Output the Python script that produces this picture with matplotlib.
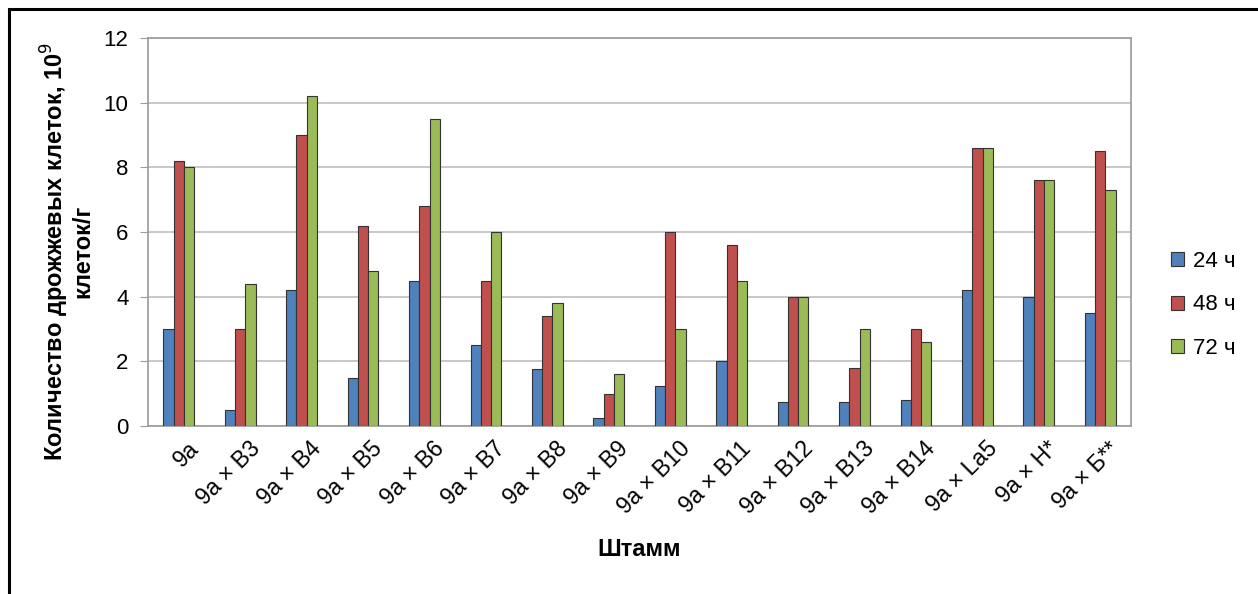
import matplotlib
matplotlib.use("Agg")
import matplotlib.pyplot as plt
import numpy as np
from matplotlib.patches import Rectangle

plt.rcParams["font.family"] = ["Liberation Sans", "DejaVu Sans"]

# Data
strains = ["9а", "9а × В3", "9а × В4", "9а × В5", "9а × В6", "9а × В7",
           "9а × В8", "9а × В9", "9а × В10", "9а × В11", "9а × В12",
           "9а × В13", "9а × В14", "9а × La5", "9а × Н*", "9а × Б**"]
h24 = [3.0, 0.5, 4.2, 1.5, 4.5, 2.5, 1.75, 0.25, 1.25, 2.0, 0.75, 0.75, 0.8, 4.2, 4.0, 3.5]
h48 = [8.2, 3.0, 9.0, 6.2, 6.8, 4.5, 3.4, 1.0, 6.0, 5.6, 4.0, 1.8, 3.0, 8.6, 7.6, 8.5]
h72 = [8.0, 4.4, 10.2, 4.8, 9.5, 6.0, 3.8, 1.6, 3.0, 4.5, 4.0, 3.0, 2.6, 8.6, 7.6, 7.3]
series_names = ["24 ч", "48 ч", "72 ч"]
colors = ["#4f81bd", "#c0504d", "#9bbb59"]

fig = plt.figure(figsize=(12.58, 5.94), dpi=100)
ax = fig.add_axes([148 / 1258, 1 - 426 / 594, (1131 - 148) / 1258, (426 - 38) / 594])

x = np.arange(len(strains))
w = 1 / 6
for i, (vals, name, c) in enumerate(zip([h24, h48, h72], series_names, colors)):
    ax.bar(x + (i - 1) * w, vals, width=w, color=c, edgecolor="#333333",
           linewidth=0.8, label=name, zorder=3)

ax.set_xlim(-0.5, len(strains) - 0.5)
ax.set_ylim(0, 12)
ax.set_yticks(range(0, 13, 2))
ax.yaxis.grid(True, color="#bfbfbf", linewidth=1.2, zorder=0)
for s in ax.spines.values():
    s.set_color("#9a9a9a")
    s.set_linewidth(1.2)
ax.tick_params(axis="y", length=6, color="#9a9a9a", labelsize=16, pad=8)
ax.tick_params(axis="x", length=0, labelsize=16.5, pad=8)
ax.set_xticks(x)
ax.set_xticklabels(strains, rotation=45, ha="right", rotation_mode="anchor")
offset = matplotlib.transforms.ScaledTranslation(8 / 100, 0, fig.dpi_scale_trans)
for lbl in ax.get_xticklabels():
    lbl.set_transform(lbl.get_transform() + offset)

ax.set_ylabel("Количество дрожжевых клеток, 10$^{9}$\nклеток/г",
              fontsize=17, fontweight="bold", linespacing=1.0)
ax.yaxis.set_label_coords(-54 / 983, 0.45)
ax.set_xlabel("Штамм", fontsize=17, fontweight="bold", labelpad=14)

leg = ax.legend(loc="center left", bbox_to_anchor=(1.02, 0.312), frameon=False,
                fontsize=16, handlelength=0.6, handleheight=0.6,
                handletextpad=0.4, labelspacing=1.0)

# outer frame
fig.patches.append(Rectangle((9 / 1258, -0.05), 1.1, 1 - 9 / 594 + 0.05,
                             transform=fig.transFigure, fill=False,
                             edgecolor="black", linewidth=2.2))

fig.savefig("out.png", dpi=100, facecolor="white")
